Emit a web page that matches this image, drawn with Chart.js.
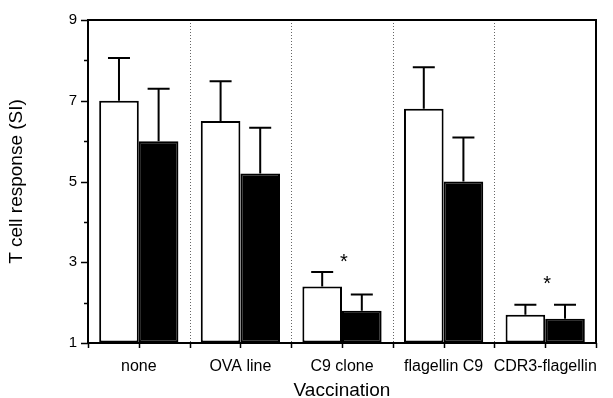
<!DOCTYPE html>
<html lang="en">
<head>
  <meta charset="UTF-8" />
  <title>T cell response by vaccination</title>
  <script src="https://cdn.jsdelivr.net/npm/chart.js"></script>
  <style>
    html, body { margin: 0; padding: 0; background: #fff; }
    #wrap { width: 613px; height: 398px; }
  </style>
</head>
<body>
  <div id="wrap"><canvas id="siChart" width="613" height="398"></canvas></div>

  <script>
    const groups = ['none', 'OVA line', 'C9 clone', 'flagellin C9', 'CDR3-flagellin'];
    const openMeans = [7.0, 6.5, 2.4, 6.8, 1.7];
    const openErr = [1.06, 0.98, 0.36, 1.03, 0.25];
    const filledMeans = [6.0, 5.2, 1.8, 5.0, 1.6];
    const filledErr = [1.3, 1.13, 0.4, 1.09, 0.35];
    // significance marks (y position in SI units), null = none
    const starAt = [null, null, 3.05, null, 2.5];
    const yTicks = [1, 2, 3, 4, 5, 6, 7, 8, 9];

    const FONT = '"Liberation Sans", Arial, Helvetica, sans-serif';

    // frame, separators, tick marks, error bars and asterisks
    const extras = {
      id: 'extras',
      afterDatasetsDraw(chart) {
        const { ctx, chartArea: a, scales: { x, y } } = chart;
        ctx.save();

        // dotted separators between groups
        ctx.strokeStyle = '#666';
        ctx.lineWidth = 1;
        ctx.setLineDash([1, 2]);
        for (let i = 1; i < groups.length; i++) {
          const px = Math.round((x.getPixelForValue(i - 1) + x.getPixelForValue(i)) / 2) + 0.5;
          ctx.beginPath();
          ctx.moveTo(px, a.top);
          ctx.lineTo(px, a.bottom);
          ctx.stroke();
        }
        ctx.setLineDash([]);

        // error bars (upper only)
        ctx.strokeStyle = '#000';
        ctx.lineWidth = 2;
        const errs = [openErr, filledErr];
        const means = [openMeans, filledMeans];
        errs.forEach((err, d) => {
          chart.getDatasetMeta(d).data.forEach((bar, i) => {
            const top = y.getPixelForValue(means[d][i] + err[i]);
            const cap = 11;
            ctx.beginPath();
            ctx.moveTo(bar.x, bar.y);
            ctx.lineTo(bar.x, top);
            ctx.moveTo(bar.x - cap, top);
            ctx.lineTo(bar.x + cap, top);
            ctx.stroke();
          });
        });

        // frame: top and right edges
        ctx.lineWidth = 2;
        ctx.beginPath();
        ctx.moveTo(a.left, a.top);
        ctx.lineTo(a.right, a.top);
        ctx.lineTo(a.right, a.bottom);
        ctx.stroke();

        // y tick marks
        ctx.lineWidth = 1.5;
        yTicks.forEach(v => {
          const py = Math.round(y.getPixelForValue(v)) + 0.5;
          const len = v % 2 === 1 ? 7 : 4;
          ctx.beginPath();
          ctx.moveTo(a.left - len, py);
          ctx.lineTo(a.left, py);
          ctx.stroke();
        });

        // x tick marks at group centres and boundaries
        const step = x.getPixelForValue(1) - x.getPixelForValue(0);
        for (let i = 0; i <= groups.length * 2; i++) {
          const px = Math.round(a.left + i * step / 2) + 0.5;
          ctx.beginPath();
          ctx.moveTo(px, a.bottom);
          ctx.lineTo(px, a.bottom + 5);
          ctx.stroke();
        }

        // asterisks
        ctx.fillStyle = '#000';
        ctx.font = '20px ' + FONT;
        ctx.textAlign = 'center';
        ctx.textBaseline = 'middle';
        starAt.forEach((v, i) => {
          if (v == null) return;
          ctx.fillText('*', x.getPixelForValue(i) + 2, y.getPixelForValue(v) + 2);
        });

        ctx.restore();
      }
    };

    new Chart(document.getElementById('siChart'), {
      type: 'bar',
      data: {
        labels: groups,
        datasets: [
          {
            data: openMeans,
            base: 1,
            backgroundColor: '#fff',
            borderColor: '#000',
            borderWidth: 2,
            borderSkipped: false
          },
          {
            data: filledMeans,
            base: 1,
            backgroundColor: '#000',
            borderColor: '#000',
            borderWidth: 2,
            borderSkipped: false
          }
        ]
      },
      options: {
        responsive: false,
        animation: false,
        devicePixelRatio: 1,
        layout: { padding: { left: 0, top: 14, right: 17, bottom: 0 } },
        plugins: { legend: { display: false }, tooltip: { enabled: false } },
        datasets: { bar: { categoryPercentage: 0.78, barPercentage: 1.0 } },
        scales: {
          x: {
            grid: { display: true, drawOnChartArea: false, drawTicks: false },
            border: { display: true, color: '#000', width: 2 },
            ticks: {
              color: '#000',
              font: { family: FONT, size: 16 },
              padding: 14,
              maxRotation: 0,
              autoSkip: false
            },
            title: {
              display: true,
              text: 'Vaccination',
              color: '#000',
              font: { family: FONT, size: 19, lineHeight: 0.75 },
              padding: 0
            },
            afterFit: s => { s.height = 55; }
          },
          y: {
            min: 1,
            max: 9,
            grid: { display: true, drawOnChartArea: false, drawTicks: false },
            border: { display: true, color: '#000', width: 2 },
            ticks: {
              stepSize: 1,
              color: '#000',
              font: { family: FONT, size: 15 },
              padding: 11,
              callback: v => (v % 2 === 1 ? v : '')
            },
            title: {
              display: true,
              text: 'T cell response (SI)',
              color: '#000',
              font: { family: FONT, size: 19, lineHeight: 1.2 },
              padding: { top: 5, bottom: 0 }
            },
            afterFit: s => { s.width = 88; }
          }
        }
      },
      plugins: [extras]
    });
  </script>
</body>
</html>
